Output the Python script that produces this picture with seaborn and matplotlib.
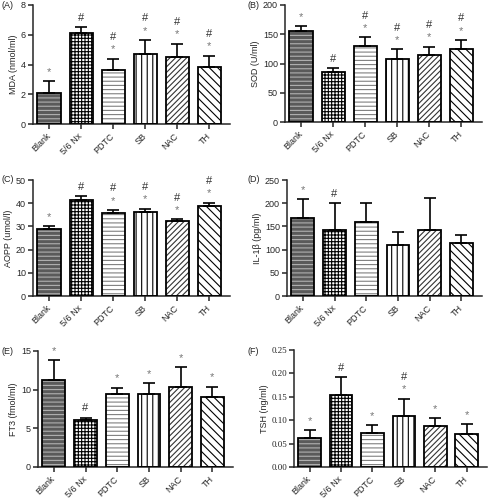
import matplotlib
matplotlib.use("Agg")
import matplotlib.pyplot as plt
import seaborn as sns
import pandas as pd
from matplotlib.patches import Rectangle

# Data
groups = ["Blank", "5/6 Nx", "PDTC", "SB", "NAC", "TH"]

mda_mean = [2.1, 6.15, 3.65, 4.7, 4.5, 3.85]
mda_top = [2.9, 6.5, 4.4, 5.65, 5.4, 4.6]
mda_marks = ["*", "#", "#*", "#*", "#*", "#*"]

sod_mean = [156, 86, 130, 107, 114, 124]
sod_top = [164, 92, 145, 124, 129, 140]
sod_marks = ["*", "#", "#*", "#*", "#*", "#*"]

aopp_mean = [28.7, 41.5, 35.7, 36.3, 32.2, 38.8]
aopp_top = [30.2, 43.0, 37.1, 37.7, 33.0, 40.3]
aopp_marks = ["*", "#", "#*", "#*", "#*", "#*"]

il1b_mean = [168, 143, 160, 110, 142, 115]
il1b_top = [208, 201, 201, 137, 212, 132]
il1b_marks = ["*", "#", "", "", "", ""]

ft3_mean = [11.3, 6.1, 9.4, 9.5, 10.4, 9.1]
ft3_top = [13.8, 6.4, 10.25, 10.8, 12.9, 10.4]
ft3_marks = ["*", "#", "*", "*", "*", "*"]

tsh_mean = [0.063, 0.153, 0.073, 0.110, 0.088, 0.070]
tsh_top = [0.079, 0.192, 0.089, 0.146, 0.104, 0.091]
tsh_marks = ["*", "#", "*", "#*", "*", "*"]

# bar look: face, hatch, hatch colour
faces = ["#5a5a5a", "white", "white", "white", "white", "white"]
hatches = ["----", "+++++", "----", "|||", "//////", "\\\\\\\\"]
hatch_cols = ["#b0b0b0", "black", "#808080", "black", "#333333", "black"]

sns.set_style("ticks")
plt.rcParams["font.family"] = ["Liberation Sans", "DejaVu Sans"]
plt.rcParams["hatch.linewidth"] = 0.8
plt.rcParams["font.size"] = 6.5

W, H = 489, 500
fig = plt.figure(figsize=(W / 100, H / 100), dpi=100)


def px_axes(left, right, top, zero):
    return fig.add_axes([left / W, 1 - zero / H, (right - left) / W, (zero - top) / H])


def draw_panel(ax, mean, top, marks, ylabel, yticks, fmt=None, serif=False):
    df = pd.DataFrame({"group": groups, "value": mean})
    sns.barplot(data=df, x="group", y="value", errorbar=None, width=0.72,
                color="white", ax=ax, zorder=2)
    xs = []
    for p, fc, h, hc in zip(ax.patches, faces, hatches, hatch_cols):
        p.set_facecolor(fc)
        p.set_hatch(h)
        p.set_edgecolor(hc)
        p.set_linewidth(0)
        ax.add_patch(Rectangle(p.get_xy(), p.get_width(), p.get_height(),
                               fill=False, edgecolor="black", lw=1.3, zorder=3))
        xs.append(p.get_x() + p.get_width() / 2)
    err = [t - m for t, m in zip(top, mean)]
    ax.errorbar(xs, mean, yerr=[[0] * len(err), err], fmt="none", ecolor="black",
                elinewidth=1.2, capsize=4, capthick=1.2, zorder=4)
    for x, t, mk in zip(xs, top, marks):
        off = 3
        if "*" in mk:
            ax.annotate("*", (x, t), xytext=(0, off), textcoords="offset points",
                        ha="center", va="bottom", fontsize=8, color="#777777")
            off += 9
        if "#" in mk:
            ax.annotate("#", (x, t), xytext=(0, off), textcoords="offset points",
                        ha="center", va="bottom", fontsize=8, color="#333333")
    ax.set_xlim(-0.5, 5.65)
    ax.set_ylim(yticks[0], yticks[-1])
    ax.set_yticks(yticks)
    if fmt:
        ax.set_yticklabels([fmt.format(v) for v in yticks],
                           family="Liberation Serif" if serif else None)
    ax.set_xlabel("")
    ax.set_ylabel(ylabel, fontsize=6.5, labelpad=2)
    ax.tick_params(axis="x", labelrotation=45, labelsize=6.5, length=3.5, width=1.1, pad=4)
    ax.tick_params(axis="y", labelsize=6.5, length=3.5, width=1.1, pad=1.5)
    for lab in ax.get_xticklabels():
        lab.set_ha("right")
        lab.set_va("center")
        lab.set_rotation_mode("anchor")
    for s in ["left", "bottom"]:
        ax.spines[s].set_linewidth(1.1)
    sns.despine(ax=ax)


axA = px_axes(33, 230, 5, 124)
draw_panel(axA, mda_mean, mda_top, mda_marks, "MDA (nmol/ml)", [0, 2, 4, 6, 8])
axB = px_axes(285, 482, 5, 122)
draw_panel(axB, sod_mean, sod_top, sod_marks, "SOD (U/ml)", [0, 50, 100, 150, 200])
axC = px_axes(33, 230, 180, 296)
draw_panel(axC, aopp_mean, aopp_top, aopp_marks, "AOPP (umol/l)", [0, 10, 20, 30, 40, 50])
axD = px_axes(287, 482, 180, 296)
draw_panel(axD, il1b_mean, il1b_top, il1b_marks, "IL-1β (pg/ml)", [0, 50, 100, 150, 200, 250])
axE = px_axes(38, 233, 351, 467)
draw_panel(axE, ft3_mean, ft3_top, ft3_marks, "FT3 (fmol/ml)", [0, 5, 10, 15])
axF = px_axes(294, 487, 350, 467)
draw_panel(axF, tsh_mean, tsh_top, tsh_marks, "TSH (ng/ml)",
           [0.0, 0.05, 0.10, 0.15, 0.20, 0.25], fmt="{:.2f}", serif=True)

for letter, x, y in [("(A)", 2, 6), ("(B)", 247, 6), ("(C)", 2, 180),
                     ("(D)", 247, 180), ("(E)", 2, 351), ("(F)", 247, 351)]:
    fig.text(x / W, 1 - y / H, letter, fontsize=6.5, va="center", ha="left")

plt.savefig("out.png", dpi=100)
